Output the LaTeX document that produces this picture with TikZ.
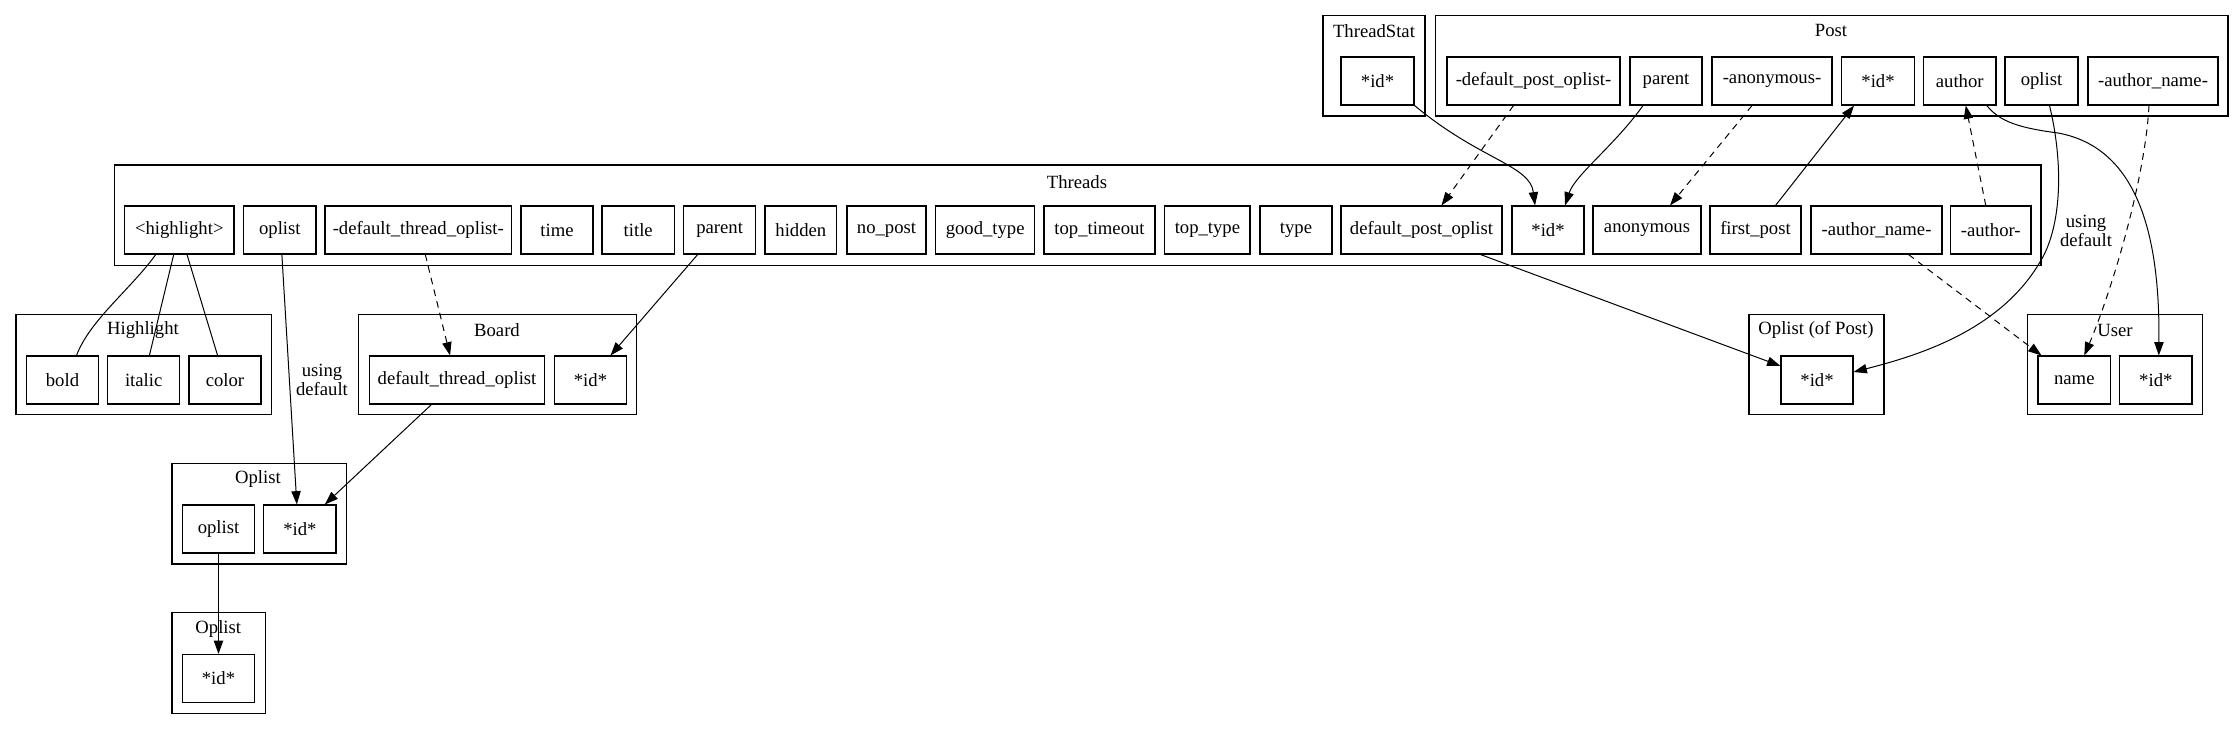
\documentclass[tikz,border=0pt]{standalone}
\usepackage{fontspec}
\setmainfont{Liberation Serif}
\usetikzlibrary{arrows.meta,calc}
\tikzset{
  fld/.style={draw, line width=0.8pt, rectangle, minimum height=36pt, inner sep=0pt, font=\fontsize{14}{16}\selectfont},
  clusterbox/.style={draw, line width=0.8pt, rectangle, inner sep=0pt},
  ctitle/.style={inner sep=0pt, font=\fontsize{14}{16}\selectfont},
  link/.style={line width=0.75pt, -{Triangle[length=10pt,width=7pt]}},
  dlink/.style={link, dash pattern=on 5pt off 4pt},
  plainlink/.style={line width=0.75pt},
  elabel/.style={align=center, inner sep=0pt, font=\fontsize{14}{14.5}\selectfont},
}
\newcommand\fld[5]{\node[fld, minimum width={(#3-#2)*0.75pt}] (#1) at ({(#2+#3)/2},#4) {#5};}
\newcommand\clus[5]{\node[clusterbox, minimum width={(#3-#2)*0.75pt}, minimum height={(#5-#4)*0.75pt}] (#1) at ({(#2+#3)/2},{(#4+#5)/2}) {};}
\begin{document}
\begin{tikzpicture}[x=0.75pt,y=-0.75pt]
\useasboundingbox (0,0) rectangle (2239,729);
% clusters
\clus{cTS}{1323}{1425}{15.3}{116}
\node[ctitle] (tTS) at (1374,30.7) {ThreadStat};
\clus{cPost}{1435.5}{2228}{15.3}{116}
\node[ctitle] (tPost) at (1831,30.7) {Post};
\clus{cThreads}{114.3}{2041}{165}{265.7}
\node[ctitle] (tThreads) at (1077,181.7) {Threads};
\clus{cHl}{16}{271.5}{314.3}{414.3}
\node[ctitle] (tHl) at (143,330) {Highlight};
\clus{cBoard}{358.6}{636.4}{314.3}{414.3}
\node[ctitle] (tBoard) at (497,330) {Board};
\clus{cOp}{172}{346.7}{463.3}{564}
\node[ctitle] (tOp) at (258,479.3) {Oplist};
\clus{cOpTwo}{172}{265.3}{612.7}{713.3}
\node[ctitle] (tOpTwo) at (218.3,629) {Oplist};
\clus{cOPost}{1749}{1884}{314.3}{414.3}
\node[ctitle] (tOPost) at (1816,330) {Oplist (of Post)};
\clus{cUser}{2027.5}{2202.4}{314.3}{414.3}
\node[ctitle] (tUser) at (2115,330) {User};
% ThreadStat / Post
\fld{ts_id}{1341}{1414}{81}{*id*}
\fld{p_dpo}{1447}{1620}{81}{-default\_post\_oplist-}
\fld{p_parent}{1630}{1702}{81}{parent}
\fld{p_anon}{1712}{1832}{81}{-anonymous-}
\fld{p_id}{1841.5}{1914.5}{81}{*id*}
\fld{p_author}{1923.5}{1996}{81}{author}
\fld{p_oplist}{2005}{2078}{81}{oplist}
\fld{p_aname}{2088}{2218}{81}{-author\_name-}
% Threads
\fld{t_hl}{124.6}{234}{230}{<highlight>}
\fld{t_oplist}{243.75}{316}{230}{oplist}
\fld{t_dto}{325}{511.6}{230}{-default\_thread\_oplist-}
\fld{t_time}{521}{593}{230}{time}
\fld{t_title}{602}{674.5}{230}{title}
\fld{t_parent}{683.5}{755.8}{230}{parent}
\fld{t_hidden}{765}{836.7}{230}{hidden}
\fld{t_nopost}{847}{926}{230}{no\_post}
\fld{t_good}{935.8}{1034.5}{230}{good\_type}
\fld{t_toptimeout}{1044}{1155}{230}{top\_timeout}
\fld{t_toptype}{1164.8}{1250}{230}{top\_type}
\fld{t_type}{1260}{1332}{230}{type}
\fld{t_dpo}{1341}{1502}{230}{default\_post\_oplist}
\fld{t_id}{1512}{1584}{230}{*id*}
\fld{t_anon}{1593}{1701}{230}{anonymous}
\fld{t_first}{1710}{1801}{230}{first\_post}
\fld{t_aname}{1811}{1942}{230}{-author\_name-}
\fld{t_author}{1950.5}{2031}{230}{-author-}
% row C
\fld{h_bold}{26.5}{98.5}{380}{bold}
\fld{h_italic}{107.7}{179.7}{380}{italic}
\fld{h_color}{189}{261}{380}{color}
\fld{b_dto}{369.5}{544.6}{380}{default\_thread\_oplist}
\fld{b_id}{554.3}{626.7}{380}{*id*}
\fld{op_id}{1781}{1853}{380}{*id*}
\fld{u_name}{2038}{2110.6}{380}{name}
\fld{u_id}{2119.6}{2192}{380}{*id*}
% Oplist
\fld{o_oplist}{182.3}{254.7}{529}{oplist}
\fld{o_id}{263.7}{336}{529}{*id*}
\fld{o2_id}{182.3}{254.7}{678.5}{*id*}
% edges
\draw[link] (ts_id.south east) .. controls (1480,160) and (1530,165) .. ($(t_id.north)+(-13,0)$);
\draw[link] ($(p_parent.south)+(-23,0)$) .. controls (1615,145) and (1575,175) .. ($(t_id.north)+(17,0)$);
\draw[dlink] ($(p_dpo.south)+(-20,0)$) -- ($(t_dpo.north)+(20,0)$);
\draw[dlink] ($(p_anon.south)+(-20,0)$) -- ($(t_anon.north)+(23,0)$);
\draw[link] ($(t_first.north)+(20,0)$) -- ($(p_id.south)+(-24,0)$);
\draw[dlink] ($(t_author.north)+(-5,0)$) -- ($(p_author.south)+(6,0)$);
\draw[link] ($(p_author.south)+(27,0)$) .. controls (2000,122) and (2020,128) .. (2058,133) .. controls (2140,148) and (2160,240) .. ($(u_id.north)+(3,0)$);
\draw[link] ($(p_oplist.south)+(8,0)$) .. controls (2065,170) and (2060,230) .. (2040,262) .. controls (2000,330) and (1920,355) .. ($(op_id.east)+(0,-8)$);
\node[elabel] (lblPost) at (2086,231) {using\\default};
\draw[dlink] ($(p_aname.south)+(-4,0)$) .. controls (2145,180) and (2112,290) .. ($(u_name.north)+(10,0)$);
\draw[dlink] ($(t_aname.south)+(32,0)$) -- ($(u_name.north west)+(4,0)$);
\draw[link] ($(t_dpo.south)+(59,0)$) -- ($(op_id.west)+(0,-14)$);
\draw[plainlink] ($(t_hl.south)+(-23.5,0)$) .. controls (130,290) and (90,320) .. ($(h_bold.north)+(14,0)$);
\draw[plainlink] ($(t_hl.south)+(-5.6,0)$) -- ($(h_italic.north)+(5.7,0)$);
\draw[plainlink] ($(t_hl.south)+(7.7,0)$) -- ($(h_color.north)+(-7.4,0)$);
\draw[link] ($(t_oplist.south)+(2,0)$) -- ($(o_id.north)+(-3,0)$);
\node[elabel] (lblThreads) at (322,380) {using\\default};
\draw[dlink] ($(t_dto.south)+(7,0)$) -- ($(b_dto.north)+(-7,0)$);
\draw[link] ($(t_parent.south)+(-22,0)$) -- ($(b_id.north)+(20,0)$);
\draw[link] ($(b_dto.south)+(-25.6,0)$) -- ($(o_id.north)+(25,0)$);
\draw[link] (o_oplist.south) -- (o2_id.north);
\end{tikzpicture}
\end{document}
